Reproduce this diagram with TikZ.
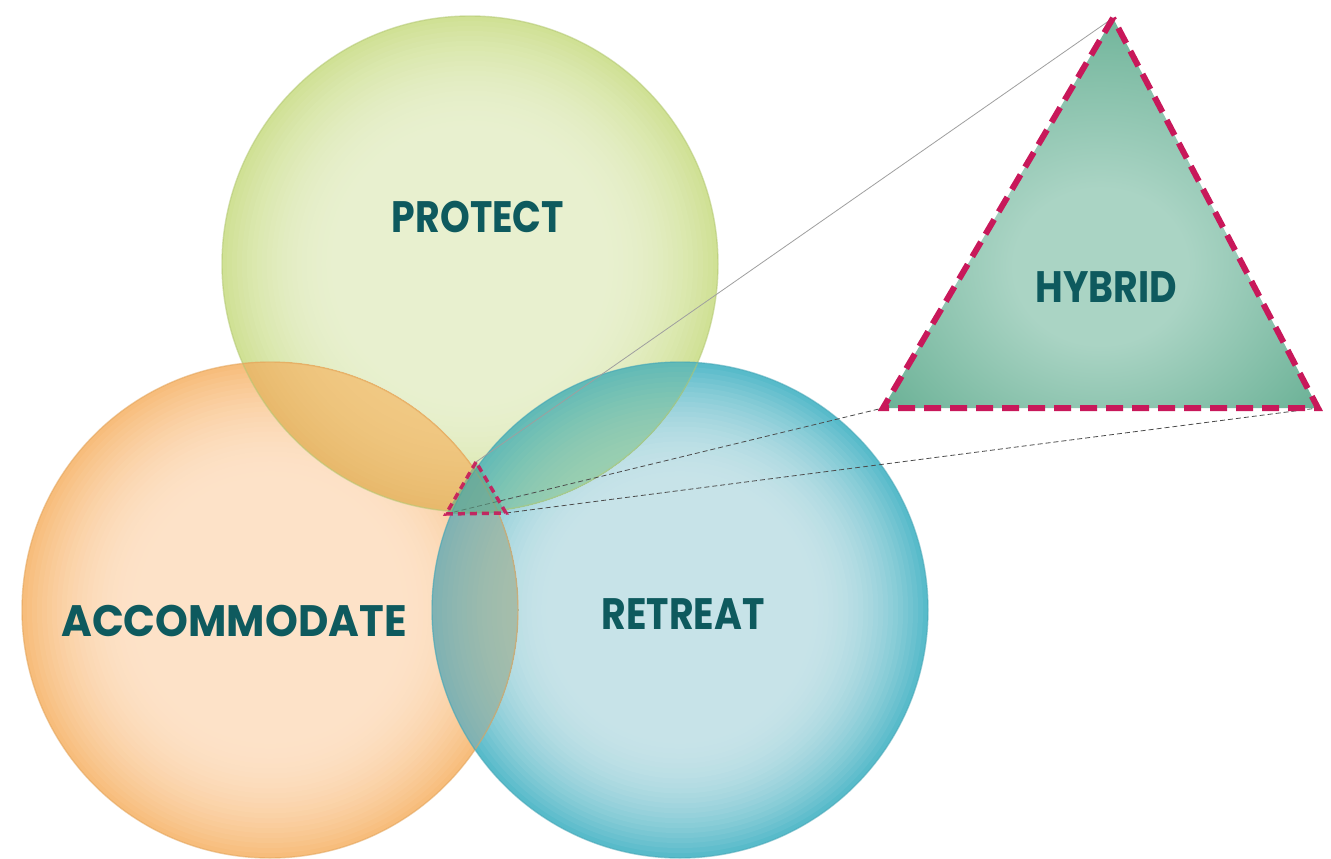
\documentclass[tikz,border=0pt]{standalone}
\usepackage{fontspec}
\newfontfamily\lblfont[FakeStretch=0.86]{Poppins}
\newfontfamily\lblwide[FakeStretch=0.95]{Poppins}
\definecolor{dashred}{HTML}{C8185A}
\definecolor{txt}{HTML}{0E5A5E}
\definecolor{hOut}{HTML}{5AA88A}
\definecolor{pEdge}{HTML}{B3C872}
\definecolor{aEdge}{HTML}{E3A358}
\definecolor{rEdge}{HTML}{45A6B6}
\definecolor{pOut}{HTML}{D0E195}
\definecolor{pIn}{HTML}{E8F0CF}
\definecolor{aOut}{HTML}{F7BD7C}
\definecolor{aIn}{HTML}{FDE2C8}
\definecolor{rOut}{HTML}{58BBCA}
\definecolor{rIn}{HTML}{C7E3E8}
\definecolor{paOut}{HTML}{E8B96C}
\definecolor{paIn}{HTML}{F1C984}
\definecolor{prOut}{HTML}{62BAB6}
\definecolor{prIn}{HTML}{9ED0B0}
\definecolor{arOut}{HTML}{80B2B3}
\definecolor{arIn}{HTML}{AABFAA}
\pgfdeclareradialshading{hybridshade}{\pgfpoint{0bp}{-8bp}}{rgb(0bp)=(0.667,0.831,0.769); rgb(10bp)=(0.667,0.831,0.769); rgb(38bp)=(0.353,0.659,0.541); rgb(72bp)=(0.353,0.659,0.541)}
% radial gradient built from concentric discs: #1 centre, #2 edge colour, #3 inner colour
\newcommand\ringfill[3]{%
  \foreach \k in {0,...,24}{%
    \pgfmathsetmacro\rr{248*(1-0.02*\k)}%
    \pgfmathsetmacro\pc{100*((24-\k)/24)^2}%
    \fill[#2!\pc!#3] (#1) circle[radius=\rr pt];%
  }%
}
\tikzset{
  zone/.style={circle, minimum size=496pt, inner sep=0pt},
  rim/.style={line width=1.4pt, draw opacity=0.55},
  lbl/.style={text=txt, font=\lblfont\bfseries\fontsize{44}{44}\selectfont, inner sep=0pt},
  lblw/.style={text=txt, font=\lblwide\bfseries\fontsize{44}{44}\selectfont, inner sep=0pt},
  zoomline/.style={draw=gray!75, line width=0.8pt},
  zoomdash/.style={draw=gray!60!black, line width=0.8pt, dash pattern=on 5pt off 3pt},
  bigtri/.style={draw=dashred, line width=6pt, dash pattern=on 17pt off 9pt, line join=miter, shading=hybridshade},
  smalltri/.style={draw=dashred, line width=3.5pt, dash pattern=on 7pt off 5pt, fill=hOut, fill opacity=0.55, draw opacity=0.9}
}
\begin{document}
\begin{tikzpicture}[x=1pt,y=-1pt]
\useasboundingbox[fill=white] (0,0) rectangle (1331,859);
% named circle zones
\node[zone] (protect) at (470,264) {};
\node[zone] (accom) at (270,610) {};
\node[zone] (retreat) at (680,610) {};
% fills
\ringfill{protect.center}{pOut}{pIn}
\ringfill{accom.center}{aOut}{aIn}
\begin{scope}
  \clip (accom.center) circle[radius=248pt];
  \ringfill{protect.center}{paOut}{paIn}
\end{scope}
\ringfill{retreat.center}{rOut}{rIn}
\begin{scope}
  \clip (protect.center) circle[radius=248pt];
  \ringfill{retreat.center}{prOut}{prIn}
\end{scope}
\begin{scope}
  \clip (accom.center) circle[radius=248pt];
  \ringfill{retreat.center}{arOut}{arIn}
\end{scope}
% rims
\draw[rim, draw=pEdge] (protect.center) circle[radius=248pt];
\draw[rim, draw=aEdge] (accom.center) circle[radius=248pt];
\draw[rim, draw=rEdge] (retreat.center) circle[radius=248pt];
% labels
\node[lbl] (tprotect) at (478,217) {PROTECT};
\node[lblw] (taccom) at (234,621) {ACCOMMODATE};
\node[lbl] (tretreat) at (683,614) {RETREAT};
% triangle corners
\coordinate (s1) at (476,462);
\coordinate (s2) at (446,514);
\coordinate (s3) at (506,513);
\coordinate (b1) at (1113,18);
\coordinate (b2) at (883,408);
\coordinate (b3) at (1318,408);
% zoom connectors
\draw[zoomline] (s1) -- (b1);
\draw[zoomdash] (s2) -- (b2);
\draw[zoomdash] (s3) -- (b3);
% triangles
\path[smalltri] (s1) -- (s2) -- (s3) -- cycle;
\path[bigtri] (b1) -- (b2) -- (b3) -- cycle;
\node[lbl] (thybrid) at (1106,287) {HYBRID};
\end{tikzpicture}
\end{document}
